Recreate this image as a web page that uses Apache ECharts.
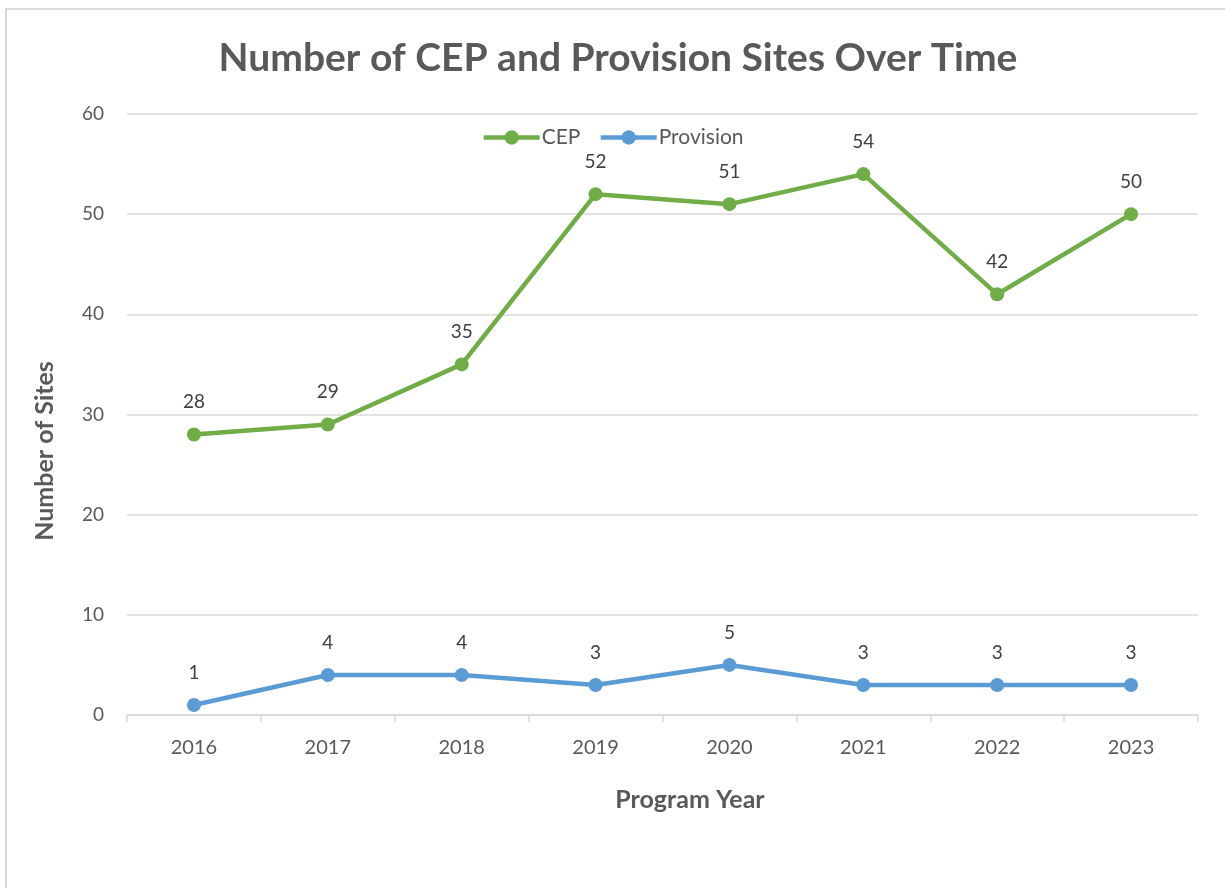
<!DOCTYPE html>
<html>
<head>
<meta charset="utf-8">
<script src="https://cdn.jsdelivr.net/npm/echarts@6/dist/echarts.min.js"></script>
<style>
  html, body { margin: 0; padding: 0; background: #fff; }
  #chart { width: 1225px; height: 888px; }
</style>
</head>
<body>
<div id="chart"></div>
<script>
// 数据
const years = ['2016', '2017', '2018', '2019', '2020', '2021', '2022', '2023']
const cepSites = [28, 29, 35, 52, 51, 54, 42, 50]
const provisionSites = [1, 4, 4, 3, 5, 3, 3, 3]

const FONT = 'Lato, "Open Sans", sans-serif'
const GRAY = '#595959'
const GRID = '#d9d9d9'

const chart = echarts.init(document.getElementById('chart'))

// 系列公共样式
function lineSeries (name, data, color) {
  return {
    name: name,
    type: 'line',
    data: data,
    symbol: 'circle',
    symbolSize: 14,
    lineStyle: { width: 4.5, color: color },
    itemStyle: { color: color },
    label: {
      show: true,
      position: 'top',
      distance: 16,
      fontFamily: FONT,
      fontSize: 19,
      color: '#404040'
    }
  }
}

chart.setOption({
  animation: false,
  textStyle: { fontFamily: FONT },
  title: {
    text: 'Number of CEP and Provision Sites Over Time',
    left: 613,
    top: 34,
    textAlign: 'center',
    textStyle: { fontFamily: FONT, fontSize: 39, fontWeight: 'bold', color: GRAY }
  },
  legend: {
    top: 122,
    left: 'center',
    itemWidth: 56,
    itemHeight: 18,
    itemGap: 18,
    lineStyle: { width: 4.5 },
    textStyle: { fontFamily: FONT, fontSize: 21, color: GRAY, padding: [0, 0, 0, -3] },
    data: ['CEP', 'Provision']
  },
  grid: { left: 127, right: 27, top: 114, bottom: 173 },
  xAxis: {
    type: 'category',
    data: years,
    boundaryGap: true,
    axisLine: { lineStyle: { color: GRID, width: 1.5 } },
    axisTick: { show: true, length: 7, lineStyle: { color: GRID, width: 1.5 } },
    axisLabel: { margin: 23, fontFamily: FONT, fontSize: 20, color: GRAY }
  },
  yAxis: {
    type: 'value',
    min: 0,
    max: 60,
    interval: 10,
    axisLine: { show: false },
    axisTick: { show: false },
    splitLine: { lineStyle: { color: GRID, width: 1.5 } },
    axisLabel: { margin: 23, fontFamily: FONT, fontSize: 19, color: GRAY }
  },
  graphic: [
    // 外边框
    {
      type: 'rect',
      shape: { x: 6, y: 9, width: 1400, height: 1000 },
      style: { fill: 'none', stroke: GRID, lineWidth: 2 },
      silent: true
    },
    // 坐标轴标题
    {
      type: 'text',
      x: 45,
      y: 451,
      rotation: Math.PI / 2,
      style: {
        text: 'Number of Sites',
        font: 'bold 25px ' + FONT,
        fill: GRAY,
        textAlign: 'center',
        textVerticalAlign: 'middle'
      }
    },
    {
      type: 'text',
      x: 690,
      y: 800,
      style: {
        text: 'Program Year',
        font: 'bold 25px ' + FONT,
        fill: GRAY,
        textAlign: 'center',
        textVerticalAlign: 'middle'
      }
    }
  ],
  series: [
    lineSeries('CEP', cepSites, '#70ad47'),
    lineSeries('Provision', provisionSites, '#5b9bd5')
  ]
})
</script>
</body>
</html>
